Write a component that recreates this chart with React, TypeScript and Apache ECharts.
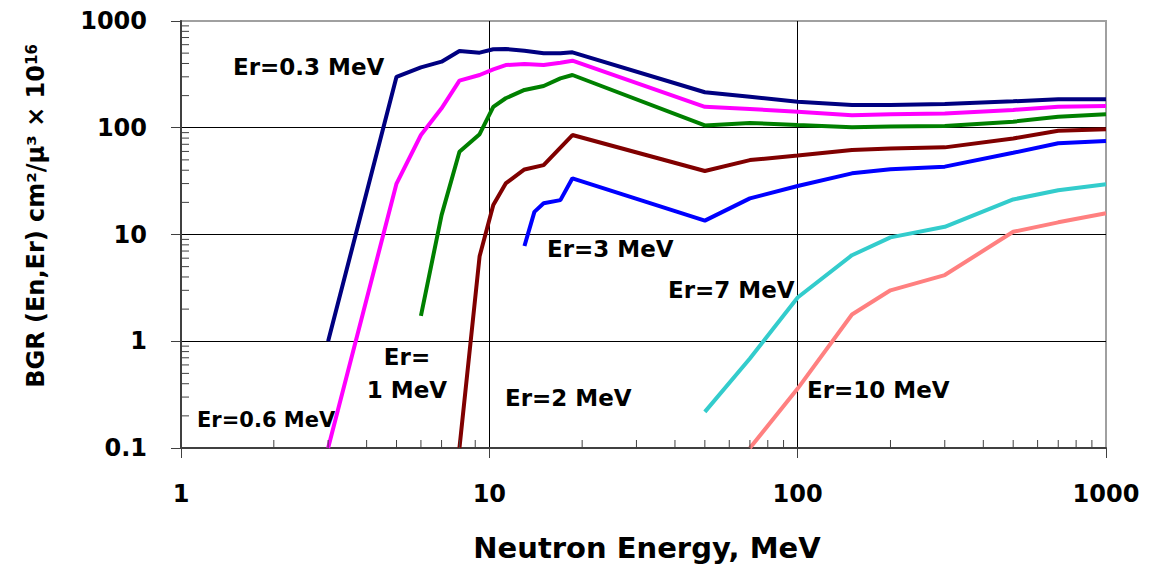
import React, { useEffect, useRef } from "react";
import * as echarts from "echarts";

const energies = [3, 5, 6, 7, 8, 9.3, 10.3, 11.3, 13, 14, 15, 17, 18.6, 50, 70, 100, 150, 200, 300, 500, 700, 1000];
const er03 = [1, 300, 368, 416, 523, 505, 543, 547, 527, null, 498, 498, 509, 215, 195, 175, 163, 163, 167, 177, 185, 185];
const er06 = [0.1, 30, 85.5, 152, 276, 312, 352, 387, 395, null, 387, 407, 425, 157, 150, 141, 131, 134, 136, 147, 157, 160];
const er1 = [null, null, 1.73, 15.2, 59.6, 87, 157, 189, 226, null, 246, 290, 312, 105, 111, 106, 101, 103, 104, 114, 127, 134];
const er2 = [null, null, null, null, 0.1, 6.27, 18.9, 30.1, 40.7, null, 44.7, null, 85.5, 39.3, 49.8, 55, 61.8, 64, 65.5, 79.4, 93.7, 97];
const er3 = [null, null, null, null, null, null, null, null, 7.8, 16.3, 19.6, 21, 33.6, 13.5, 21.8, 28.5, 37.4, 40.8, 43.2, 58.3, 71.5, 75];
const er7 = [null, null, null, null, null, null, null, null, null, null, null, null, null, 0.218, 0.69, 2.57, 6.4, 9.4, 11.8, 21.3, 26, 29.5];
const er10 = [null, null, null, null, null, null, null, null, null, null, null, null, null, null, 0.1, 0.36, 1.78, 3.0, 4.17, 10.6, 13, 15.8];

const seriesNames = ["Er=0.3 MeV", "Er=0.6 MeV", "Er=1 MeV", "Er=2 MeV", "Er=3 MeV", "Er=7 MeV", "Er=10 MeV"];
const seriesValues = [er03, er06, er1, er2, er3, er7, er10];
const seriesColors = ["#000080", "#FF00FF", "#008000", "#800000", "#0000FF", "#33CCCC", "#FF8080"];

const xTickLabels = ["1", "10", "100", "1000"];
const yTickLabels = ["0.1", "1", "10", "100", "1000"];
const xMinorTicks = [2, 3, 4, 5, 6, 7, 8, 9, 20, 30, 40, 50, 60, 70, 80, 90, 200, 300, 400, 500, 600, 700, 800, 900];
const yMinorTicks = [0.2, 0.3, 0.4, 0.5, 0.6, 0.7, 0.8, 0.9, 2, 3, 4, 5, 6, 7, 8, 9, 20, 30, 40, 50, 60, 70, 80, 90, 200, 300, 400, 500, 600, 700, 800, 900];

const X_MIN = 1, X_MAX = 1000, Y_MIN = 0.1, Y_MAX = 1000;
const FONT = "DejaVu Sans";

export default function App() {
  const ref = useRef<HTMLDivElement>(null);
  useEffect(() => {
    document.body.style.margin = "0";
    const chart = echarts.init(ref.current!, null, { renderer: "svg" });
    const lineSeries = seriesValues.map((vals, k) => ({
      type: "line",
      name: seriesNames[k],
      data: energies
        .map((e, i) => [e, vals[i]])
        .filter((p) => p[1] !== null),
      showSymbol: false,
      symbol: "none",
      lineStyle: { color: seriesColors[k], width: 4 },
      itemStyle: { color: seriesColors[k] },
      clip: false,
      z: 3,
    }));
    const labelStyle = { fontFamily: FONT, fontWeight: "bold", fontSize: 23, fill: "#000", align: "left", verticalAlign: "middle" };
    chart.setOption({
      animation: false,
      grid: { left: 181, right: 48, top: 21, bottom: 118, show: true, borderColor: "#a0a0a0", borderWidth: 2, backgroundColor: "#fff" },
      xAxis: {
        type: "log", logBase: 10, min: X_MIN, max: X_MAX,
        axisLine: { show: true, lineStyle: { color: "#404040", width: 2 } },
        axisTick: { show: true, inside: false, length: 10, lineStyle: { color: "#404040", width: 1 } },
        axisLabel: {
          margin: 34, fontFamily: FONT, fontWeight: "bold", fontSize: 24, color: "#000",
          formatter: (v: number) => xTickLabels[Math.round(Math.log10(v))],
        },
        splitLine: { show: true, showMinLine: false, showMaxLine: false, lineStyle: { color: "#000", width: 1 } },
        minorTick: { show: false },
      },
      yAxis: {
        type: "log", logBase: 10, min: Y_MIN, max: Y_MAX,
        axisLine: { show: true, lineStyle: { color: "#404040", width: 2 } },
        axisTick: { show: true, inside: false, length: 10, lineStyle: { color: "#404040", width: 1 } },
        axisLabel: {
          margin: 34, fontFamily: FONT, fontWeight: "bold", fontSize: 24, color: "#000",
          formatter: (v: number) => yTickLabels[Math.round(Math.log10(v)) + 1],
        },
        splitLine: { show: true, showMinLine: false, showMaxLine: false, lineStyle: { color: "#000", width: 1 } },
        minorTick: { show: false },
      },
      series: [
        ...lineSeries,
        {
          type: "custom",
          name: "xMinor",
          silent: true,
          clip: false,
          z: 4,
          data: xMinorTicks.map((v) => [v, Y_MIN]),
          renderItem: (params: any, api: any) => {
            const p = api.coord([api.value(0), api.value(1)]);
            return { type: "line", shape: { x1: p[0], y1: p[1], x2: p[0], y2: p[1] - 8 }, style: { stroke: "#404040", lineWidth: 1 } };
          },
        },
        {
          type: "custom",
          name: "yMinor",
          silent: true,
          clip: false,
          z: 4,
          data: yMinorTicks.map((v) => [X_MIN, v]),
          renderItem: (params: any, api: any) => {
            const p = api.coord([api.value(0), api.value(1)]);
            return { type: "line", shape: { x1: p[0], y1: p[1], x2: p[0] + 8, y2: p[1] }, style: { stroke: "#404040", lineWidth: 1 } };
          },
        },
      ],
      graphic: [
        { type: "text", x: 233, y: 67, style: { ...labelStyle, text: "Er=0.3 MeV" } },
        { type: "text", x: 197, y: 420, style: { ...labelStyle, fontSize: 21, text: "Er=0.6 MeV" } },
        { type: "text", x: 407, y: 373, style: { ...labelStyle, align: "center", lineHeight: 33, text: "Er=\n1 MeV" } },
        { type: "text", x: 505, y: 398, style: { ...labelStyle, text: "Er=2 MeV" } },
        { type: "text", x: 547, y: 249, style: { ...labelStyle, text: "Er=3 MeV" } },
        { type: "text", x: 668, y: 290, style: { ...labelStyle, text: "Er=7 MeV" } },
        { type: "text", x: 807, y: 390, style: { ...labelStyle, text: "Er=10 MeV" } },
        {
          type: "text", x: 647, y: 548,
          style: { fontFamily: FONT, fontWeight: "bold", fontSize: 29, fill: "#000", align: "center", verticalAlign: "middle", text: "Neutron Energy, MeV" },
        },
        {
          type: "text", x: 36, y: 216, rotation: Math.PI / 2,
          style: {
            fontFamily: FONT, fontWeight: "bold", fontSize: 24, fill: "#000", align: "center", verticalAlign: "middle",
            text: "BGR (En,Er) cm²/µ³ × 10{sup|16}",
            rich: { sup: { fontFamily: FONT, fontWeight: "bold", fontSize: 15, fill: "#000", verticalAlign: "top", lineHeight: 15 } },
          },
        },
      ],
    });
    return () => chart.dispose();
  }, []);
  return <div ref={ref} style={{ position: "absolute", left: 0, top: 0, width: 1154, height: 566 }} />;
}
